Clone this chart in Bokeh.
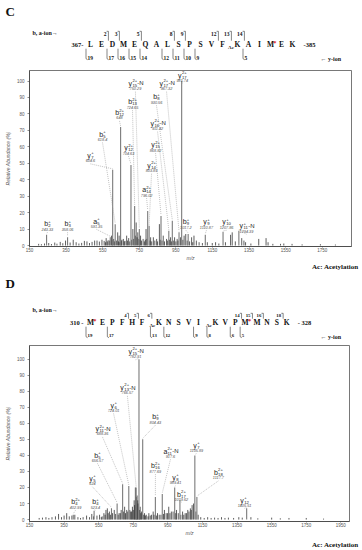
from bokeh.plotting import figure
from bokeh.layouts import column
from bokeh.models import Range1d, ColumnDataSource, FixedTicker
from bokeh.core.properties import value
from bokeh.embed import file_html
from bokeh.resources import INLINE

PAGE_W = 362
SERIF = "Liberation Serif"
SANS = "Liberation Sans"

# ================= Panel C data =================
c_residues = list("LEDMEQALSPSVFKAIMEK")
c_first, c_last = "367-", "-385"
c_acetyl = [14]
c_oxid = [17]
c_b_sites = [2, 3, 5, 8, 9, 12, 13, 14]
c_y_sites = [19, 17, 16, 15, 14, 12, 11, 10, 9, 5]
c_ticks = [150, 350, 550, 750, 950, 1150, 1350, 1550, 1750]

c_ion_kind = ["b", "b", "a", "y", "b", "b", "y", "b", "y", "y", "a", "y", "y", "b", "y", "y", "b", "y", "y", "y"]
c_ion_sub = ["2", "3", "5", "7", "5", "12", "12", "13", "15", "14", "14", "15", "16", "8", "17", "17", "9", "9", "10", "11"]
c_ion_sup = ["+", "+", "+", "+", "+", "2+", "2+", "2+", "2+", "2+", "2+", "2+", "2+", "+", "2+", "2+", "+", "+", "+", "+"]
c_ion_sfx = ["", "", "", "", "", "", "", "", "-N", "", "", "", "-N", "", "-N", "", "", "", "", "-N"]
c_ion_mz = [243.33, 358.06, 591.35, 604.6, 618.4, 648.0, 704.63, 724.65, 750.29, 803.89, 796.02, 868.82,
            911.42, 930.56, 967.32, 981.74, 1017.2, 1110.87, 1207.86, 1294.39]
c_ion_int = [6.5, 5.0, 5.0, 46.0, 13.0, 72.0, 49.0, 24.0, 10.0, 12.0, 21.0, 18.0, 9.0, 15.0, 8.0, 100.0,
             7.0, 6.5, 8.3, 9.0]
c_ion_txt = ["243.33", "358.06", "591.35", "604.6", "618.4", "648", "704.63", "724.65", "750.29", "803.89",
             "796.02", "868.82", "911.42", "930.56", "967.32", "981.74", "1017.2", "1110.87", "1207.86", "1294.39"]
# label anchor (layout) in data units
c_lab_x = [248, 358, 516, 483, 549, 642, 691, 713, 729, 817, 790, 839, 850, 844, 899, 985, 1005, 1117, 1227, 1336]
c_lab_y = [13.1, 13.1, 14.9, 54.7, 67.7, 80.8, 59.4, 87.3, 98.6, 48.7, 33.9, 61.2, 74.3, 90.3, 98.6, 103.6,
           14.3, 14.3, 14.3, 11.9]

c_noise_mz = [200, 215, 232, 255, 270, 288, 300, 318, 332, 347, 372, 389, 405, 420, 435, 450, 464, 478, 492, 506,
              519, 532, 546, 558, 569, 580, 598, 610, 632, 640, 655, 663, 672, 681, 692, 715, 733, 742, 757, 771,
              787, 812, 827, 845, 860, 881, 899, 921, 943, 957, 995, 1004, 1036, 1049, 1062, 1077, 1095, 1122, 1149, 1167,
              1185, 1221, 1249, 1258, 1275, 1310, 1322, 1331, 1360, 1403, 1443, 1454, 1480, 1522, 1540, 1585, 1640, 1740, 1822]
c_noise_int = [1.0, 0.8, 1.2, 1.5, 0.9, 1.8, 1.1, 2.2, 1.4, 3.0, 1.8, 3.5, 2.0, 1.2, 1.6, 2.8, 2.5, 1.5, 2.2, 3.0,
               3.0, 2.4, 3.5, 2.8, 4.5, 3.2, 6.0, 4.0, 8.0, 6.0, 3.5, 4.0, 2.8, 6.0, 4.5, 10.0, 14.0, 8.0, 6.0, 4.0,
               10.0, 5.0, 5.0, 4.0, 13.0, 6.0, 4.0, 5.0, 5.0, 4.0, 6.0, 7.0, 5.0, 6.0, 3.0, 2.0, 1.5, 2.0, 1.5, 2.0,
               1.2, 2.0, 6.5, 8.0, 2.5, 4.5, 3.0, 2.0, 1.2, 4.0, 4.5, 2.0, 1.0, 1.0, 1.2, 1.0, 0.7, 0.8, 0.6]
c_grass_mz = [565, 575, 588, 603, 615, 625, 636, 645, 652, 668, 686, 698, 708, 720, 728, 738, 748, 752, 762, 778,
              783, 792, 808, 818, 835, 850, 865, 874, 888, 905, 915, 926, 936, 950, 962, 975, 988, 1012, 1025, 1042]
c_grass_int = [2.0, 2.5, 3.0, 3.5, 2.5, 3.0, 2.5, 2.0, 3.0, 2.5, 3.0, 2.5, 3.5, 4.0, 6.0, 5.0, 4.0, 3.5, 3.0, 2.5,
               3.5, 4.0, 3.0, 2.5, 3.0, 2.5, 3.5, 3.0, 2.5, 3.0, 3.5, 2.5, 3.0, 2.5, 3.0, 5.0, 3.5, 3.0, 2.5, 2.0]

# ================= Panel D data =================
d_residues = list("MEPFHFKNSVIKVPMMNSK")
d_first, d_last = "310 -", "- 328"
d_acetyl = [7, 12]
d_oxid = [1, 15]
d_b_sites = [4, 5, 6, 14, 15, 16, 18]
d_y_sites = [19, 17, 13, 12, 9, 8, 6, 5]
d_ticks = [150, 350, 550, 750, 950, 1150, 1350, 1550, 1750, 1950]

d_ion_kind = ["y", "y", "y", "b", "y", "a", "b", "b", "y", "y", "b", "b", "b", "y", "b", "y"]
d_ion_sub = ["15", "13", "6", "9", "11", "11", "5", "16", "5", "8", "17", "4", "4", "7", "18", "12"]
d_ion_sup = ["2+", "2+", "+", "+", "2+", "2+", "+", "2+", "+", "+", "2+", "2+", "+", "+", "2+", "+"]
d_ion_sfx = ["-N", "-N", "", "", "-N", "-N", "", "", "", "", "", "", "", "", "", ""]
d_ion_mz = [782.91, 766.57, 724.01, 804.43, 688.36, 917.6, 656.57, 877.69, 624.0, 989.41, 1019.62, 402.99,
            523.4, 1105.89, 1117.7, 1405.51]
d_ion_int = [100.0, 20.0, 21.0, 50.0, 22.0, 16.0, 10.0, 14.0, 7.0, 20.0, 12.0, 3.0, 5.5, 40.0, 14.0, 7.0]
d_ion_txt = ["782.91", "766.57", "724.01", "804.43", "688.36", "917.6", "656.57", "877.69", "624", "989.41",
             "1019.62", "402.99", "523.4", "1105.89", "1117.7", "1405.51"]
d_lab_x = [763, 716, 636, 878, 572, 965, 543, 878, 514, 994, 1028, 416, 531, 1115, 1242, 1393]
d_lab_y = [104.8, 82.3, 71.3, 64.0, 56.7, 42.7, 40.2, 33.5, 25.6, 26.2, 15.9, 11.0, 11.0, 46.3, 29.3, 12.2]

d_noise_mz = [206, 225, 245, 262, 280, 300, 318, 335, 350, 365, 380, 395, 412, 430, 445, 460, 480, 497, 510, 540,
              555, 570, 580, 592, 600, 612, 640, 668, 680, 700, 712, 735, 745, 755, 762, 772, 778, 790, 798, 815,
              825, 840, 855, 865, 890, 900, 930, 940, 955, 970, 1000, 1010, 1035, 1050, 1065, 1080, 1090, 1098, 1125, 1140,
              1160, 1180, 1200, 1220, 1240, 1260, 1280, 1300, 1330, 1360, 1380, 1430, 1470, 1550, 1600, 1650, 1750, 1850]
d_noise_int = [1.0, 1.2, 1.5, 1.0, 1.5, 2.0, 3.5, 1.5, 2.5, 4.0, 2.0, 2.5, 3.0, 1.5, 1.0, 1.5, 2.5, 1.5, 3.5, 2.5,
               3.0, 2.0, 4.0, 6.0, 7.0, 5.0, 6.0, 4.0, 6.0, 8.0, 6.0, 5.0, 8.0, 12.0, 20.0, 15.0, 10.0, 8.0, 5.0, 4.0,
               3.0, 4.0, 3.0, 5.0, 4.0, 3.0, 6.0, 4.0, 8.0, 5.0, 6.0, 4.0, 5.0, 4.0, 6.0, 7.0, 9.0, 10.0, 3.0, 1.5,
               1.0, 1.5, 1.0, 1.2, 1.0, 1.5, 1.0, 1.2, 1.0, 1.5, 1.2, 1.5, 0.8, 1.2, 0.8, 1.0, 1.0, 0.6]
d_grass_mz = [520, 565, 587, 605, 618, 630, 648, 662, 675, 693, 705, 718, 730, 740, 750, 758, 768, 776, 786, 794,
              810, 820, 835, 848, 870, 885, 910, 925, 948, 962, 980, 995, 1025, 1042, 1058, 1072, 1085, 1112]
d_grass_int = [2.0, 1.5, 3.0, 4.0, 3.0, 4.0, 3.5, 3.0, 4.0, 5.0, 4.0, 5.0, 6.0, 5.0, 6.0, 9.0, 14.0, 12.0, 6.0, 4.0,
               3.0, 2.5, 2.0, 2.5, 3.0, 2.5, 3.0, 3.5, 4.0, 4.0, 5.0, 4.0, 3.0, 3.0, 4.0, 5.0, 6.0, 5.0]

note_text = "Ac: Acetylation"


# ================= helpers =================
def residue_x(residues, acetyl, oxid, x0, step, ac_gap, ox_gap):
    xs, extra = [], 0.0
    for i, _ in enumerate(residues):
        n = i + 1
        if n in acetyl:
            extra += ac_gap
        xs.append(x0 + step * i + extra)
        if n in oxid:
            extra += ox_gap
    return xs


BOLD = dict(text_font=value(SERIF), text_font_style="bold", text_baseline="middle", text_color="#111111")


def blank_fig(top, bottom):
    p = figure(width=PAGE_W, height=bottom - top, x_range=Range1d(0, PAGE_W),
               y_range=Range1d(bottom, top), output_backend="svg", toolbar_location=None,
               min_border=0, x_axis_type=None, y_axis_type=None)
    p.outline_line_color = None
    p.frame_align = False
    return p


def header_fig(top, bottom, letter, letter_y, residues, first, last, acetyl, oxid, b_sites, y_sites,
               x0, step, ac_gap, ox_gap, y_seq, y_top, y_bot, y_bion, num_size, note_y=None):
    p = blank_fig(top, bottom)
    N = len(residues)
    xs = residue_x(residues, acetyl, oxid, x0, step, ac_gap, ox_gap)
    if note_y is not None:
        p.text(x=[358], y=[note_y], text=[note_text], text_font_size="7px", text_align="right", **BOLD)
    p.text(x=[5], y=[letter_y], text=[letter], text_font_size="13px", text_align="left", **BOLD)
    p.text(x=[32], y=[y_bion], text=["b, a-ion\u2192"], text_font_size="6px", text_align="left", **BOLD)
    p.text(x=[320], y=[y_bot + 1], text=["\u2190 y-ion"], text_font_size="6px", text_align="left", **BOLD)
    p.text(x=xs, y=[y_seq] * N, text=residues, text_font_size="7.5px", text_align="center", **BOLD)
    p.text(x=[xs[0] - 7], y=[y_seq], text=[first], text_font_size="6.5px", text_align="right", **BOLD)
    p.text(x=[xs[-1] + 11], y=[y_seq], text=[last], text_font_size="6.5px", text_align="left", **BOLD)
    p.text(x=[xs[n - 1] - 6.5 for n in acetyl], y=[y_seq + 2.5] * len(acetyl), text=["Ac"] * len(acetyl),
           text_font_size="5px", text_align="center", **BOLD)
    p.text(x=[xs[n - 1] + 4.3 for n in oxid], y=[y_seq - 1.5] * len(oxid), text=["*"] * len(oxid),
           text_font=value(SERIF), text_font_style="bold", text_font_size="7px", text_align="center",
           text_baseline="middle", text_color="#e0202a")
    bx, by, bt, lx, ly = [], [], [], [], []
    for n in b_sites:
        cut = (xs[n - 1] + xs[n]) / 2
        bx.append(cut - 0.6)
        by.append(y_top)
        bt.append(str(n))
        lx.append([cut - 0.4, cut + 1.4, cut + 1.4])
        ly.append([y_top - 2.2, y_top - 2.2, y_seq - 3.8])
    p.text(x=bx, y=by, text=bt, text_font_size=num_size, text_align="right", **BOLD)
    yx, yy, yt = [], [], []
    for n in y_sites:
        idx = N - n
        cut = (xs[idx - 1] + xs[idx]) / 2 if idx > 0 else xs[0] - 4.5
        yx.append(cut + 1.6)
        yy.append(y_bot)
        yt.append(str(n))
        lx.append([cut, cut, cut + 1.6])
        ly.append([y_seq + 4.2, y_bot + 1.2, y_bot + 2.2])
    p.text(x=yx, y=yy, text=yt, text_font_size=num_size, text_align="left", **BOLD)
    p.multi_line(xs=lx, ys=ly, line_color="#333333", line_width=0.6)
    return p


def draw_ions(p, kind, sub, sup, sfx, mz, inten, txt, lx, ly, ppu):
    wl, cw = 4.0, 2.3
    w_ss = [cw * max(len(a), len(b)) for a, b in zip(sub, sup)]
    w_sf = [5.5 if s else 0.0 for s in sfx]
    tot = [wl + a + b for a, b in zip(w_ss, w_sf)]
    x_l = [-t / 2 for t in tot]
    x_s = [a + wl for a in x_l]
    x_f = [a + wl + b + 0.3 for a, b in zip(x_l, w_ss)]
    src = ColumnDataSource(dict(lx=lx, ly=ly, kind=kind, sub=sub, sup=sup, sfx=sfx, txt=txt,
                                xl=x_l, xs=x_s, xf=x_f, ly0=[y - 8.5 / ppu for y in ly],
                                mz=mz, top=[v + 0.6 for v in inten]))
    p.segment(x0="lx", y0="ly0", x1="mz", y1="top", source=src, line_color="#9a9a9a",
              line_width=0.6, line_dash="1 1")
    common = dict(source=src, text_font=value(SANS), text_baseline="middle", text_color="#222222")
    p.text(x="lx", y="ly", text="kind", x_offset="xl", text_font_size="7px", text_align="left", **common)
    p.text(x="lx", y="ly", text="sub", x_offset="xs", y_offset=2.0, text_font_size="4.2px",
           text_align="left", **common)
    p.text(x="lx", y="ly", text="sup", x_offset="xs", y_offset=-2.6, text_font_size="4.2px",
           text_align="left", **common)
    p.text(x="lx", y="ly", text="sfx", x_offset="xf", text_font_size="6px", text_align="left", **common)
    p.text(x="lx", y="ly", text="txt", y_offset=5.3, source=src, text_font=value(SANS),
           text_font_style="italic", text_font_size="3.8px", text_align="center",
           text_baseline="middle", text_color="#555555")


def spec_fig(height, border_bottom, border_right, xmax, ymin, ymax, ticks,
             noise_mz, noise_int, grass_mz, grass_int,
             kind, sub, sup, sfx, mz, inten, txt, lab_x, lab_y):
    p = figure(width=PAGE_W, height=height, x_range=Range1d(150, xmax), y_range=Range1d(ymin, ymax),
               output_backend="svg", toolbar_location=None, min_border_left=29,
               min_border_right=border_right, min_border_top=0, min_border_bottom=border_bottom)
    p.frame_align = False
    p.grid.visible = False
    p.outline_line_color = "#555555"
    p.outline_line_width = 0.8
    p.xaxis.ticker = FixedTicker(ticks=ticks)
    p.yaxis.ticker = FixedTicker(ticks=list(range(0, 101, 10)))
    for ax in (p.xaxis[0], p.yaxis[0]):
        ax.major_label_text_font = SANS
        ax.major_label_text_font_size = "4.5px"
        ax.major_label_text_color = "#555555"
        ax.axis_line_color = "#444444"
        ax.axis_line_width = 0.8
        ax.major_tick_line_color = "#444444"
        ax.major_tick_line_width = 0.6
        ax.major_tick_in = 0
        ax.minor_tick_line_color = None
        ax.axis_label_text_font = SANS
        ax.axis_label_text_font_style = "italic"
        ax.axis_label_text_font_size = "5px"
        ax.axis_label_text_color = "#555555"
    p.xaxis.axis_label = "m/z"
    p.yaxis.axis_label = "Relative Abundance (%)"
    p.xaxis.major_tick_out = 1
    p.yaxis.major_tick_out = 2
    p.xaxis.major_label_standoff = 0
    p.yaxis.major_label_standoff = 3
    p.xaxis.axis_label_standoff = 0
    p.yaxis.axis_label_standoff = 3

    ppu = 180.0 / (ymax - ymin)
    gsrc = ColumnDataSource(dict(mz=noise_mz + grass_mz, i=noise_int + grass_int,
                                 z=[0.0] * (len(noise_mz) + len(grass_mz))))
    p.segment(x0="mz", y0="z", x1="mz", y1="i", source=gsrc, line_color="#1a1a1a", line_width=0.7)
    isrc = ColumnDataSource(dict(mz=mz, i=inten, z=[0.0] * len(mz)))
    p.segment(x0="mz", y0="z", x1="mz", y1="i", source=isrc, line_color="#7a7a7a", line_width=1.1)
    draw_ions(p, kind, sub, sup, sfx, mz, inten, txt, lab_x, lab_y, ppu)
    return p


headC = header_fig(0, 70, "C", 11, c_residues, c_first, c_last, c_acetyl, c_oxid, c_b_sites, c_y_sites,
                   x0=90, step=11.0, ac_gap=4.0, ox_gap=0.0, y_seq=44, y_top=33, y_bot=57, y_bion=32,
                   num_size="5.5px")
specC = spec_fig(193, 13, 11, 1910, -0.6, 106.4, c_ticks, c_noise_mz, c_noise_int, c_grass_mz, c_grass_int,
                 c_ion_kind, c_ion_sub, c_ion_sup, c_ion_sfx, c_ion_mz, c_ion_int, c_ion_txt,
                 c_lab_x, c_lab_y)
headD = header_fig(263, 345, "D", 283, d_residues, d_first, d_last, d_acetyl, d_oxid, d_b_sites, d_y_sites,
                   x0=90, step=9.9, ac_gap=7.0, ox_gap=2.0, y_seq=322, y_top=315, y_bot=335, y_bion=309,
                   num_size="4.8px", note_y=266)
specD = spec_fig(193, 13, 13, 2000, -1.2, 108.5, d_ticks, d_noise_mz, d_noise_int, d_grass_mz, d_grass_int,
                 d_ion_kind, d_ion_sub, d_ion_sup, d_ion_sfx, d_ion_mz, d_ion_int, d_ion_txt,
                 d_lab_x, d_lab_y)
footD = blank_fig(538, 549)
footD.text(x=[358], y=[543], text=[note_text], text_font_size="7px", text_align="right", **BOLD)

layout = column(headC, specC, headD, specD, footD, spacing=0)
open("out.html", "w").write(file_html(layout, INLINE))
